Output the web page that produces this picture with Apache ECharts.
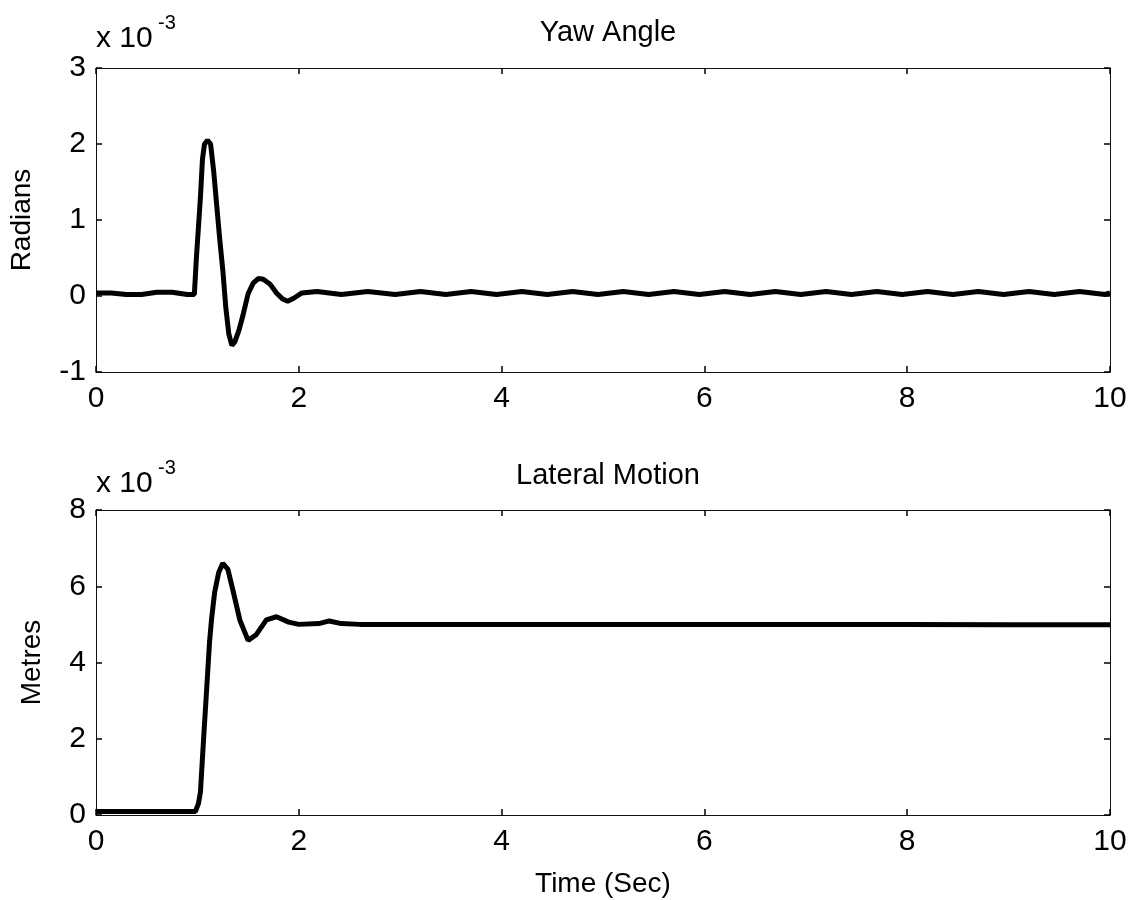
<!DOCTYPE html>
<html>
<head>
<meta charset="utf-8">
<script src="https://cdn.jsdelivr.net/npm/echarts@6/dist/echarts.min.js"></script>
<style>html,body{margin:0;padding:0;background:#fff}#c{width:1133px;height:900px}</style>
</head>
<body>
<div id="c"></div>
<script>
// Yaw angle (x 1e-3 radians)
var yawTime = [0, 0.15, 0.3, 0.45, 0.6, 0.75, 0.9, 0.97, 0.99, 1.01, 1.03, 1.05, 1.07, 1.1, 1.13, 1.16, 1.19, 1.22, 1.25, 1.28, 1.31, 1.34, 1.37, 1.41, 1.45, 1.5, 1.55, 1.6, 1.65, 1.72, 1.78, 1.84, 1.89, 1.95, 2.03, 2.18, 2.42, 2.68, 2.95, 3.2, 3.45, 3.7, 3.95, 4.2, 4.45, 4.7, 4.95, 5.2, 5.45, 5.7, 5.95, 6.2, 6.45, 6.7, 6.95, 7.2, 7.45, 7.7, 7.95, 8.2, 8.45, 8.7, 8.95, 9.2, 9.45, 9.7, 9.95, 10];
var yawValues = [0.04, 0.04, 0.02, 0.02, 0.05, 0.05, 0.02, 0.02, 0.5, 0.9, 1.3, 1.8, 2.0, 2.05, 2.0, 1.65, 1.2, 0.75, 0.35, -0.15, -0.5, -0.65, -0.6, -0.45, -0.25, 0.03, 0.17, 0.23, 0.22, 0.15, 0.04, -0.04, -0.07, -0.03, 0.04, 0.06, 0.02, 0.06, 0.02, 0.06, 0.02, 0.06, 0.02, 0.06, 0.02, 0.06, 0.02, 0.06, 0.02, 0.06, 0.02, 0.06, 0.02, 0.06, 0.02, 0.06, 0.02, 0.06, 0.02, 0.06, 0.02, 0.06, 0.02, 0.06, 0.02, 0.06, 0.02, 0.04];
// Lateral motion (x 1e-3 metres)
var latTime = [0, 0.5, 0.98, 1.01, 1.03, 1.06, 1.09, 1.12, 1.14, 1.17, 1.21, 1.25, 1.3, 1.35, 1.42, 1.5, 1.58, 1.68, 1.78, 1.9, 2.0, 2.2, 2.3, 2.42, 2.6, 3, 4, 5, 6, 7, 8, 9, 10];
var latValues = [0.09, 0.09, 0.09, 0.3, 0.6, 1.95, 3.25, 4.55, 5.15, 5.84, 6.36, 6.6, 6.45, 5.9, 5.1, 4.58, 4.73, 5.12, 5.2, 5.06, 5.0, 5.02, 5.09, 5.02, 5.0, 5.0, 5.0, 5.0, 5.0, 5.0, 5.0, 4.99, 4.99];

var titles = ['Yaw Angle', 'Lateral Motion'];
var yNames = ['Radians', 'Metres'];
var xName = 'Time (Sec)';
var xTicks = {min: 0, max: 10, interval: 2};
var yawTicks = {min: -1, max: 3, interval: 1};
var latTicks = {min: 0, max: 8, interval: 2};
var scaleBase = 'x 10';
var scaleExp = '-3';

var FONT = 'Liberation Sans, Arial, sans-serif';
var tickStyle = {show: true, inside: true, length: 6, lineStyle: {color: '#000', width: 1.5}};
var lineStyleAxis = {show: true, onZero: false, lineStyle: {color: '#111', width: 1}};

function xAx(grid, pos, labels, name) {
  return {
    type: 'value', gridIndex: grid, position: pos,
    min: xTicks.min, max: xTicks.max, interval: xTicks.interval,
    axisLine: lineStyleAxis, axisTick: tickStyle, splitLine: {show: false},
    axisLabel: {show: labels, color: '#000', fontSize: 30, fontFamily: FONT, margin: 12},
    name: name || '', nameLocation: 'middle', nameGap: 55,
    nameTextStyle: {color: '#000', fontSize: 28, fontFamily: FONT}
  };
}
function yAx(grid, pos, t, labels, name, gap) {
  return {
    type: 'value', gridIndex: grid, position: pos,
    min: t.min, max: t.max, interval: t.interval,
    axisLine: lineStyleAxis, axisTick: tickStyle, splitLine: {show: false},
    axisLabel: {show: labels, color: '#000', fontSize: 30, fontFamily: FONT, margin: 10},
    name: name || '', nameLocation: 'middle', nameGap: gap || 0,
    nameTextStyle: {color: '#000', fontSize: 28, fontFamily: FONT}
  };
}

var chart = echarts.init(document.getElementById('c'), null, {renderer: 'canvas'});
chart.setOption({
  backgroundColor: '#fff',
  animation: false,
  title: [
    {text: titles[0], left: 603, top: 13, textAlign: 'center', textStyle: {fontSize: 29, fontWeight: 'normal', color: '#000', fontFamily: FONT}},
    {text: titles[1], left: 603, top: 456, textAlign: 'center', textStyle: {fontSize: 29, fontWeight: 'normal', color: '#000', fontFamily: FONT}}
  ],
  grid: [
    {left: 96, right: 23, top: 68, height: 304},
    {left: 96, right: 23, top: 510, height: 305}
  ],
  xAxis: [
    xAx(0, 'bottom', true),
    xAx(0, 'top', false),
    xAx(1, 'bottom', true, xName),
    xAx(1, 'top', false)
  ],
  yAxis: [
    yAx(0, 'left', yawTicks, true, yNames[0], 60),
    yAx(0, 'right', yawTicks, false),
    yAx(1, 'left', latTicks, true, yNames[1], 50),
    yAx(1, 'right', latTicks, false)
  ],
  graphic: [
    {type: 'text', left: 96, top: 24, style: {text: scaleBase, font: '30px ' + FONT, fill: '#000'}},
    {type: 'text', left: 158, top: 13, style: {text: scaleExp, font: '20px ' + FONT, fill: '#000'}},
    {type: 'text', left: 96, top: 469, style: {text: scaleBase, font: '30px ' + FONT, fill: '#000'}},
    {type: 'text', left: 158, top: 458, style: {text: scaleExp, font: '20px ' + FONT, fill: '#000'}}
  ],
  series: [
    {type: 'line', xAxisIndex: 0, yAxisIndex: 0, showSymbol: false, lineStyle: {color: '#000', width: 5}, itemStyle: {color: '#000'},
     data: yawTime.map(function (t, i) { return [t, yawValues[i]]; })},
    {type: 'line', xAxisIndex: 2, yAxisIndex: 2, showSymbol: false, lineStyle: {color: '#000', width: 5}, itemStyle: {color: '#000'},
     data: latTime.map(function (t, i) { return [t, latValues[i]]; })}
  ]
});
</script>
</body>
</html>
